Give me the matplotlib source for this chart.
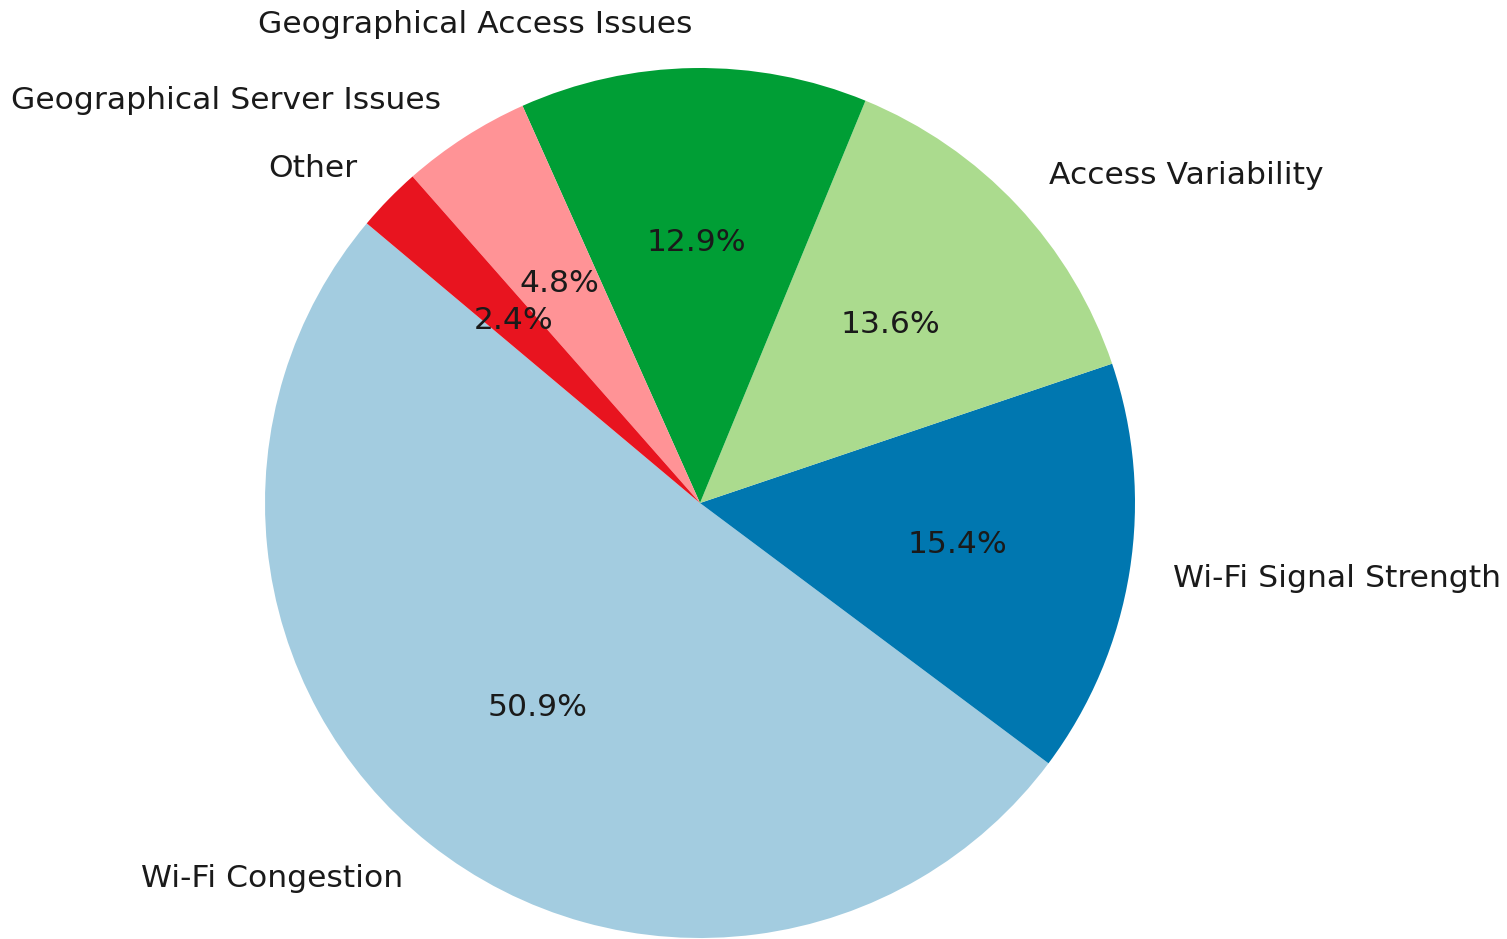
import matplotlib.pyplot as plt

labels = ["Wi-Fi Congestion", "Wi-Fi Signal Strength", "Access Variability",
          "Geographical Access Issues", "Geographical Server Issues", "Other"]
shares = [50.9, 15.4, 13.6, 12.9, 4.8, 2.4]

# Paired palette, as it shows (a little more saturated) in the reference
colors = ["#a3cce0", "#0077b0", "#abdb8e", "#009e35", "#ff9396", "#e8141f"]

fig = plt.figure(figsize=(15.07, 9.39), dpi=100)
ax = fig.add_axes([0, 0, 1, 1])
ax.pie(shares, labels=labels, colors=colors, autopct="%1.1f%%", startangle=140,
       textprops={"fontsize": 22.6, "color": "#1a1a1a"})
ax.set_xlim(-700 / 435, (1507 - 700) / 435)
ax.set_ylim(-(939 - 503) / 435, 503 / 435)
ax.set_aspect("auto")
plt.savefig("out.png", dpi=100)
